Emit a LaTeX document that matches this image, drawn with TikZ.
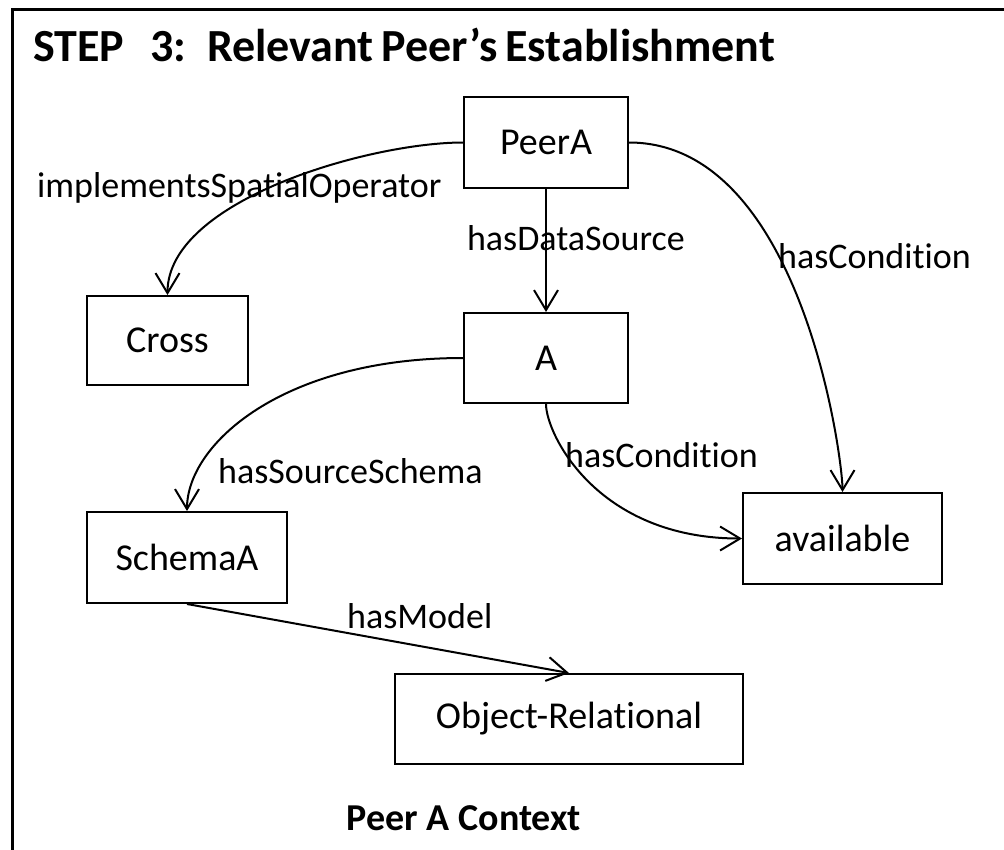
\documentclass[tikz,border=0pt]{standalone}
\usepackage{fontspec}
\setmainfont{Carlito}[Ligatures=NoCommon]
\usetikzlibrary{arrows.meta}
\begin{document}
\begin{tikzpicture}[x=1pt,y=-1pt,
  box/.style={draw, line width=2pt, inner sep=0pt, font=\fontsize{38}{46}\selectfont},
  lbl/.style={inner sep=0pt, anchor=base west, font=\fontsize{36}{44}\selectfont},
  edge/.style={line width=2pt, -{Straight Barb[length=20pt,width=24pt]}}]
\useasboundingbox (0,0) rectangle (1004,849);
\fill[white] (0,0) rectangle (1004,849);
% frame (top and left edges)
\coordinate (fbl) at (12.5,852);
\coordinate (ftl) at (12.5,9.5);
\coordinate (ftr) at (1008,9.5);
\draw[line width=3pt] (fbl) -- (ftl) -- (ftr);
% title
\node[inner sep=0pt, anchor=base west, font=\fontsize{46}{54}\selectfont\bfseries] (title) at (33,61) {STEP\hspace{26pt}3:\hspace{21pt}Relevant\hspace{8pt}Peer’s\hspace{8pt}Establishment};
% boxes
\node[box, minimum width=164pt, minimum height=91pt] (peerA) at (546,142.5) {\raisebox{-2pt}{PeerA}};
\node[box, minimum width=164pt, minimum height=90pt] (A) at (546,358) {\raisebox{-2pt}{A}};
\node[box, minimum width=161pt, minimum height=89pt] (cross) at (167.5,340.5) {\raisebox{-2pt}{Cross}};
\node[box, minimum width=200pt, minimum height=91pt] (schemaA) at (187,557.5) {\raisebox{-2pt}{SchemaA}};
\node[box, minimum width=199pt, minimum height=91pt] (avail) at (842.5,538.5) {\raisebox{-2pt}{available}};
\node[box, minimum width=348pt, minimum height=90pt] (objrel) at (569,719) {\raisebox{-2pt}{Object-Relational}};
% connectors
\draw[edge] (peerA.west) .. controls +(-93,0) and +(0,-95) .. (cross.north);
\draw[edge] (peerA.south) -- (A.north);
\draw[edge] (peerA.east) .. controls +(172,0) and +(0,-35) .. (avail.north);
\draw[edge] (A.west) .. controls +(-180,0) and +(0,-67) .. (schemaA.north);
\draw[edge] (A.south) .. controls +(0,30) and +(-145,0) .. (avail.west);
\draw[edge] (schemaA.south) -- (objrel.north);
% labels
\node[lbl] (l1) at (37,197) {implementsSpatialOperator};
\node[lbl, anchor=base east] (l2) at (685,250) {hasDataSource};
\node[lbl] (l3) at (778,268) {hasCondition};
\node[lbl] (l4) at (565,467) {hasCondition};
\node[lbl] (l5) at (218,483) {hasSourceSchema};
\node[lbl] (l6) at (347,628) {hasModel};
% caption
\node[inner sep=0pt, anchor=base, font=\fontsize{38}{46}\selectfont\bfseries] (caption) at (464,830) {Peer A Context};
\end{tikzpicture}
\end{document}
